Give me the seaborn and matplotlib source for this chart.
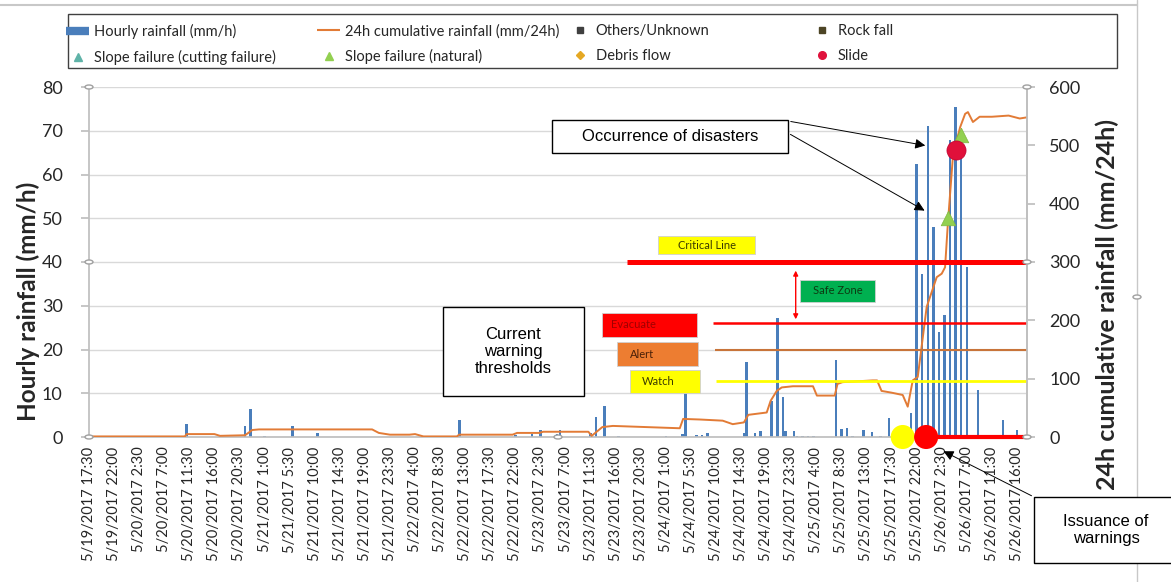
import numpy as np
import pandas as pd
import matplotlib
matplotlib.use("Agg")
import matplotlib.pyplot as plt
from matplotlib.lines import Line2D
from matplotlib.patches import Rectangle, Circle
import seaborn as sns

# all x values are hours after 5/19/2017 17:30
rain_hour = [17.5, 28.0, 29.0, 31.5, 36.5, 41.0, 66.5, 76.5, 79.5, 81.0, 84.0, 84.5,
             90.0, 91.0, 92.5, 95.0, 103.5, 106.5, 107.0, 109.0, 110.0, 111.0,
             117.5, 118.0, 119.5, 120.5, 122.5, 123.5, 124.5, 125.0, 126.5, 127.0,
             128.0, 129.0, 130.0, 134.0, 135.0, 136.0, 137.0, 139.0, 140.5, 142.0,
             143.5, 147.5, 148.5, 149.5, 150.5, 151.5, 152.5, 153.5, 154.5, 155.5,
             156.5, 157.5, 159.5, 164.0, 166.5]
rain_mm = [3.0, 2.6, 6.4, 0.3, 2.5, 1.0, 3.9, 0.5, 0.6, 1.7, 0.8, 1.5,
           1.0, 4.5, 7.0, 0.3, 0.2, 0.7, 10.3, 0.4, 0.5, 1.0,
           1.0, 17.1, 0.9, 1.4, 8.2, 27.2, 9.1, 1.3, 1.3, 0.3,
           0.3, 0.3, 0.3, 17.5, 1.8, 2.1, 0.3, 1.6, 1.2, 0.3,
           4.3, 5.4, 62.5, 37.3, 71.2, 48.0, 24.0, 27.8, 67.8, 75.4,
           66.0, 38.9, 10.8, 4.0, 1.5]

cum_hour = [0, 17.2, 17.5, 22.5, 23.5, 28.0, 29.3, 30.5, 50.8, 52.0, 54.0, 57.5,
            58.5, 60.0, 66.0, 66.4, 76.0, 76.8, 80.8, 81.5, 89.6, 90.2, 92.1, 94.0,
            100.0, 106.0, 106.6, 109.6, 113.7, 115.5, 117.5, 118.3, 121.6, 122.3,
            123.4, 124.3, 126.3, 129.9, 130.6, 133.8, 134.3, 135.2, 140.6, 141.4,
            142.2, 144.0, 146.0, 146.9, 147.8, 148.7, 150.3, 152.1, 153.0, 153.6,
            154.1, 155.0, 155.7, 156.3, 157.2, 157.7, 158.6, 159.8, 162.0, 165.0,
            167.0, 168.3]
cum_mm = [1, 1, 5, 5, 2, 3, 12, 13, 13, 7, 4, 4,
          5, 1, 1, 4, 4, 7, 7, 9, 9, 2, 17, 19,
          17, 15, 31, 30, 28, 22, 25, 38, 42, 62,
          79, 85, 87, 87, 71, 71, 91, 94, 97, 97,
          79, 76, 72, 52, 97, 103, 223, 274, 280, 291,
          366, 480, 509, 531, 554, 557, 540, 549, 549, 551,
          546, 548]

threshold_names = ["Critical Line", "Evacuate", "Alert", "Watch"]
threshold_mm = [300, 195, 150, 96]
threshold_start = [96.5, 111.9, 112.3, 112.5]
threshold_colors = ["#FF0000", "#FF0000", "#C8743A", "#FFFF00"]
threshold_widths = [3.6, 1.8, 1.5, 2.0]

issue_hour = [146.0, 150.2]
issue_names = ["Watch issued", "Evacuate issued"]
slide_hour, slide_mm = [155.6], [492]
natural_hour, natural_mm = [154.1, 156.5], [375, 518]

x_end = 168.3
tick_hours = np.arange(0, 167, 4.5)
tick_labels = [f"{d.month}/{d.day}/{d.year} {d.hour}:{d.minute:02d}"
               for d in pd.date_range("2017-05-19 17:30", periods=len(tick_hours), freq="270min")]

sns.set_theme(style="white")
plt.rcParams["font.family"] = ["Lato", "DejaVu Sans"]

W, H = 1171, 582
fig = plt.figure(figsize=(W / 100, H / 100), dpi=100)


def fx(px):
    return px / W


def fy(py):
    return 1 - py / H


ax = fig.add_axes([fx(89), fy(437), (1027 - 89) / W, 350 / H])

blue = "#4A7EBB"
orange = "#E27B36"
grey = "#BFBFBF"
txt = "#262626"

sns.barplot(x=rain_hour, y=rain_mm, native_scale=True, width=0.9, color=blue,
            saturation=1, errorbar=None, orient="x", linewidth=0, ax=ax)
ax.set_xlim(0, x_end)
ax.set_ylim(0, 80)
ax.set_yticks(range(0, 81, 10))
ax.grid(axis="y", color="#D9D9D9", lw=1)
ax.set_axisbelow(True)
ax.spines["top"].set_visible(False)
for s in ["left", "right", "bottom"]:
    ax.spines[s].set_color(grey)
ax.tick_params(axis="y", length=6, color=grey, pad=13, labelsize=13, labelcolor=txt, direction="out", left=True)
ax.set_xticks(tick_hours)
ax.set_xticklabels(tick_labels, rotation=90, fontsize=10.5, color=txt)
ax.tick_params(axis="x", length=0, pad=7)
ax.set_xlabel("")
ax.set_ylabel("")

ax2 = ax.twinx()
sns.lineplot(x=cum_hour, y=cum_mm, color=orange, lw=1.4, sort=False, estimator=None, ax=ax2)
ax2.set_ylim(0, 600)
ax2.set_xlim(0, x_end)
ax2.set_yticks(range(0, 601, 100))
for s in ["top", "left", "bottom"]:
    ax2.spines[s].set_visible(False)
ax2.spines["right"].set_color(grey)
ax2.tick_params(axis="y", length=6, color=grey, pad=10, labelsize=13, labelcolor=txt, direction="out", right=True)
ax2.set_ylabel("")

# axis titles anchored at their lower ends
fig.text(fx(28), fy(421), "Hourly rainfall (mm/h)", rotation=90, rotation_mode="anchor",
         ha="left", va="center", fontsize=17.5, fontweight="bold", color=txt)
fig.text(fx(1107), fy(490), "24h cumulative rainfall (mm/24h)", rotation=90, rotation_mode="anchor",
         ha="left", va="center", fontsize=18, fontweight="bold", color=txt)

for val, start, col, lw in zip(threshold_mm, threshold_start, threshold_colors, threshold_widths):
    ax2.hlines(val, start, x_end, color=col, lw=lw)
ax2.hlines(0, issue_hour[1], x_end, color="#FF0000", lw=3, clip_on=False)

sns.scatterplot(x=issue_hour, y=[0, 0], hue=issue_names, palette=["#FFFF00", "#FF0000"],
                s=300, linewidth=0, legend=False, clip_on=False, zorder=5, ax=ax2)
sns.scatterplot(x=natural_hour, y=natural_mm, marker="^", color="#92D050", s=110,
                edgecolor="#7FB83E", linewidth=0.5, zorder=6, ax=ax2)
sns.scatterplot(x=slide_hour, y=slide_mm, marker="o", color="#E0103A", s=190,
                edgecolor="#C00030", linewidth=0.5, zorder=6, ax=ax2)

ax2.annotate("", xy=(126.8, 197), xytext=(126.8, 290),
             arrowprops=dict(arrowstyle="<|-|>", color="#FF0000", lw=1, mutation_scale=7))

# label boxes drawn in figure pixels
boxes = [
    ("Critical Line", 658, 236, 755, 254, "#FFFF00", "#3a3a00", 0),
    ("Safe Zone", 800, 280, 875, 302, "#00B050", "#0d3b12", 0),
    ("Evacuate", 602, 313, 697, 337, "#FF0000", "#A00000", -16),
    ("Alert", 617, 342, 698, 366, "#ED7D31", "#4a2008", -15),
    ("Watch", 630, 370, 700, 393, "#FFFF00", "#3a3a00", -7),
]
for label, x0, y0, x1, y1, fc, tc, dx in boxes:
    fig.add_artist(Rectangle((fx(x0), fy(y1)), (x1 - x0) / W, (y1 - y0) / H,
                             transform=fig.transFigure, facecolor=fc, edgecolor="#d0d0d0", lw=0.6, zorder=7))
    fig.text(fx((x0 + x1) / 2 + dx), fy((y0 + y1) / 2), label,
             ha="center", va="center", fontsize=8, color=tc, zorder=8)

callouts = [
    ("Current\nwarning\nthresholds", 443, 307, 584, 396),
    ("Occurrence of disasters", 552, 120, 788, 153),
    ("Issuance of\nwarnings", 1034, 497, 1178, 563),
]
for label, x0, y0, x1, y1 in callouts:
    fig.add_artist(Rectangle((fx(x0), fy(y1)), (x1 - x0) / W, (y1 - y0) / H,
                             transform=fig.transFigure, facecolor="white", edgecolor="black", lw=1, zorder=7))
    fig.text(fx((x0 + x1) / 2), fy((y0 + y1) / 2), label, ha="center", va="center",
             fontsize=12, family="Liberation Sans", color="black", linespacing=1.15, zorder=8)

for (sx, sy), (ex, ey) in [((788, 121), (928, 146)), ((788, 133), (927, 212)), ((1034, 497), (941, 450))]:
    ax.annotate("", xy=(fx(ex), fy(ey)), xycoords="figure fraction",
                xytext=(fx(sx), fy(sy)), textcoords="figure fraction",
                arrowprops=dict(arrowstyle="-|>", color="black", lw=0.7, mutation_scale=15), zorder=9)

# chart frame remnants and selection handles
fig.add_artist(Line2D([0, fx(1137)], [fy(5), fy(5)], transform=fig.transFigure, color="#C8C8C8", lw=1.5))
fig.add_artist(Line2D([fx(1137), fx(1137)], [0, 1], transform=fig.transFigure, color="#C8C8C8", lw=1))
for hx, hy in [(89, 87), (89, 262), (89, 437), (1027, 87), (1027, 262), (1027, 437), (558, 437), (1137, 297)]:
    fig.add_artist(Circle((fx(hx), fy(hy)), 4 / W, transform=fig.transFigure,
                          facecolor="white", edgecolor="#A0A0A0", lw=1, zorder=10))

# legend: frame plus four fixed-width columns
fig.add_artist(Rectangle((fx(68), fy(68)), (1117 - 68) / W, 54 / H, transform=fig.transFigure,
                         facecolor="white", edgecolor="#404040", lw=1, zorder=3))
legend_cols = [
    ([Line2D([], [], color=blue, lw=6, solid_capstyle="butt"),
      Line2D([], [], marker="^", ls="", color="#5FB3A8", markersize=6)],
     ["Hourly rainfall (mm/h)", "Slope failure (cutting failure)"], 66),
    ([Line2D([], [], color=orange, lw=1.5, solid_capstyle="butt"),
      Line2D([], [], marker="^", ls="", color="#92D050", markersize=6)],
     ["24h cumulative rainfall (mm/24h)", "Slope failure (natural)"], 317),
    ([Line2D([], [], marker="s", ls="", color="#404040", markersize=5),
      Line2D([], [], marker="D", ls="", color="#E5A823", markersize=4.5)],
     ["Others/Unknown", "Debris flow"], 568),
    ([Line2D([], [], marker="s", ls="", color="#4D4525", markersize=5),
      Line2D([], [], marker="o", ls="", color="#E0123C", markersize=5.5)],
     ["Rock fall", "Slide"], 810),
]
for hs, ls, x0 in legend_cols:
    leg = fig.legend(hs, ls, loc="upper left", bbox_to_anchor=(fx(x0), fy(24)), frameon=False,
                     fontsize=10.5, labelspacing=0.75, handlelength=1.6, handletextpad=0.3,
                     borderaxespad=0, borderpad=0, labelcolor=txt)
    leg.set_zorder(4)

plt.savefig("out.png", dpi=100)
